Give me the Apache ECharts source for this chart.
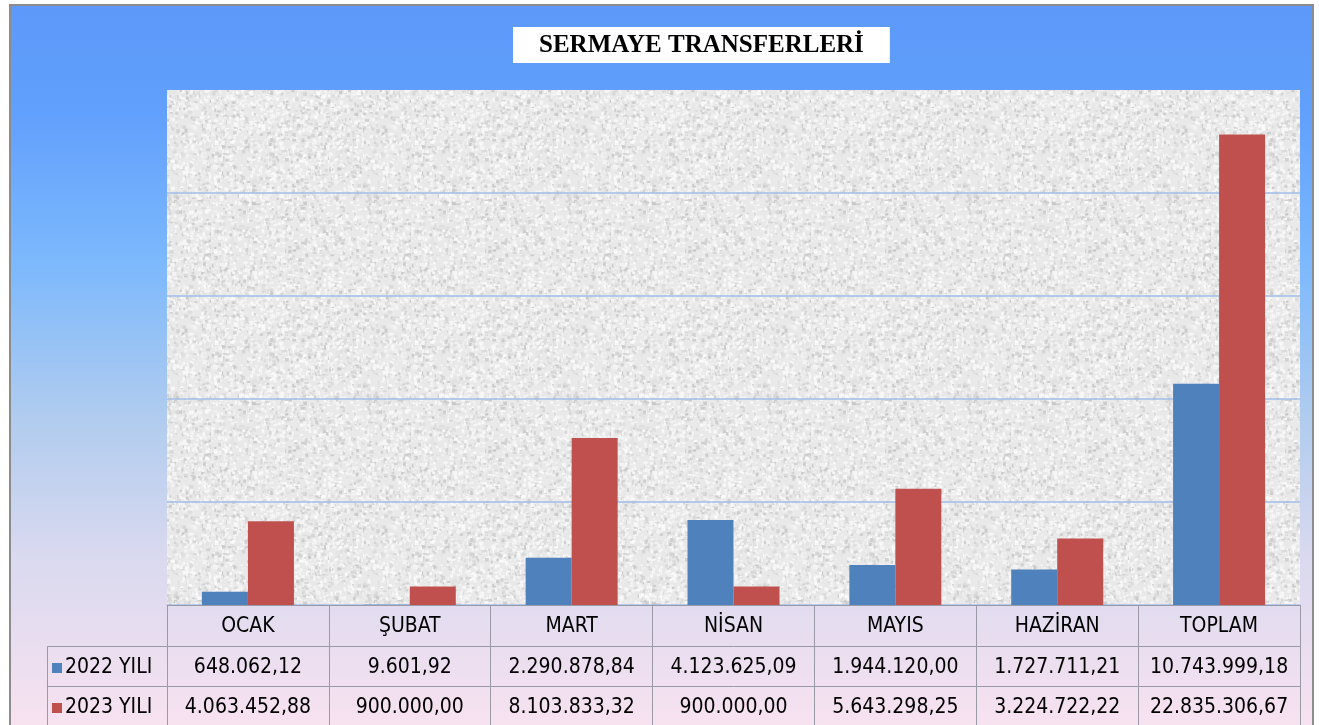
<!DOCTYPE html>
<html>
<head>
<meta charset="utf-8">
<script src="https://cdn.jsdelivr.net/npm/echarts@6/dist/echarts.min.js"></script>
<style>
	body { margin: 0; background: #fff; }
	#myChart {
		position: absolute; left: 9px; top: 4px;
		width: 1301px; height: 723px;
		border: 2px solid #8c8c8c; border-bottom: none;
	}
</style>
</head>
<body>
<div id="myChart"></div>
<script>
var months = ['OCAK', 'ŞUBAT', 'MART', 'NİSAN', 'MAYIS', 'HAZİRAN', 'TOPLAM'];
var seriesNames = ['2022 YILI', '2023 YILI'];
var values2022 = [648062.12, 9601.92, 2290878.84, 4123625.09, 1944120.00, 1727711.21, 10743999.18];
var values2023 = [4063452.88, 900000.00, 8103833.32, 900000.00, 5643298.25, 3224722.22, 22835306.67];

var tableFont = "'Liberation Sans Narrow', 'DejaVu Sans Condensed', 'Arial Narrow', sans-serif";
var borderColor = '#9a9aa6';

// turkish number format 1.234.567,89
function fmtTR(v) {
	var parts = v.toFixed(2).split('.');
	return parts[0].replace(/\B(?=(\d{3})+(?!\d))/g, '.') + ',' + parts[1];
}

// granite like texture for the plot area (seeded, always the same)
function makeTexture() {
	var c = document.createElement('canvas');
	c.width = 200; c.height = 200;
	var ctx = c.getContext('2d');
	ctx.fillStyle = '#e9e9e9';
	ctx.fillRect(0, 0, 200, 200);
	var seed = 12345;
	function rnd() { seed = (seed * 16807) % 2147483647; return seed / 2147483647; }
	for (var i = 0; i < 4200; i++) {
		var g = rnd() < 0.55 ? 244 + Math.floor(rnd() * 10) : 195 + Math.floor(rnd() * 35);
		ctx.fillStyle = 'rgba(' + g + ',' + g + ',' + g + ',0.8)';
		ctx.fillRect(rnd() * 200, rnd() * 200, 1 + rnd() * 3, 1 + rnd() * 3);
	}
	return c;
}

var myChart = echarts.init(document.getElementById('myChart'));

var tableAxis = function (offset, formatter) {
	return {
		type: 'category',
		data: months,
		position: 'bottom',
		offset: offset,
		axisLine: { show: true, lineStyle: { color: borderColor, width: 1 } },
		axisTick: { show: true, interval: 0, length: offset == 0 ? 41 : 40, lineStyle: { color: borderColor } },
		axisLabel: {
			interval: 0,
			margin: 11,
			color: '#000',
			fontFamily: tableFont,
			fontSize: 21,
			formatter: formatter
		},
		splitLine: { show: false }
	};
};

var option = {
	backgroundColor: {
		type: 'linear', x: 0, y: 0, x2: 0, y2: 1,
		colorStops: [
			{ offset: 0, color: '#5c99f8' },
			{ offset: 0.15, color: '#62a0fd' },
			{ offset: 0.36, color: '#7db9fc' },
			{ offset: 0.56, color: '#aecbef' },
			{ offset: 0.76, color: '#d9d9ef' },
			{ offset: 1, color: '#f8e2f0' }
		]
	},
	textStyle: { fontFamily: tableFont },
	title: {
		text: 'SERMAYE TRANSFERLERİ',
		left: 502,
		top: 21,
		backgroundColor: '#fff',
		padding: [6, 26, 5, 26],
		textStyle: {
			fontFamily: "'Liberation Serif', 'DejaVu Serif', serif",
			fontWeight: 'bold',
			fontSize: 25,
			color: '#000'
		}
	},
	legend: {
		data: seriesNames,
		orient: 'vertical',
		left: 41,
		top: 650,
		icon: 'rect',
		itemWidth: 10,
		itemHeight: 10,
		itemGap: 16,
		padding: 0,
		selectedMode: false,
		textStyle: { fontFamily: tableFont, fontSize: 21, lineHeight: 24, color: '#000', padding: [0, 0, 0, -2] }
	},
	grid: {
		left: 156,
		top: 84,
		width: 1133,
		height: 515,
		show: true,
		borderWidth: 0,
		backgroundColor: { image: makeTexture(), repeat: 'repeat' }
	},
	xAxis: [
		tableAxis(0, function (v) { return v; }),
		tableAxis(41, function (v, i) { return fmtTR(values2022[i]); }),
		tableAxis(81, function (v, i) { return fmtTR(values2023[i]); })
	],
	yAxis: {
		type: 'value',
		min: 0,
		max: 25000000,
		interval: 5000000,
		axisLabel: { show: false },
		axisLine: { show: false },
		axisTick: { show: false },
		splitLine: { showMaxLine: false, lineStyle: { color: '#a2bcea', width: 1.5 } }
	},
	series: [
		{
			name: seriesNames[0],
			type: 'bar',
			data: values2022,
			barWidth: 46,
			barGap: '0%',
			itemStyle: { color: '#4f81bd' }
		},
		{
			name: seriesNames[1],
			type: 'bar',
			data: values2023,
			barWidth: 46,
			barGap: '0%',
			itemStyle: { color: '#c0504d' }
		}
	],
	// left column of the data table (row header cells)
	graphic: [
		{ type: 'line', shape: { x1: 36, y1: 640.5, x2: 156, y2: 640.5 }, style: { stroke: borderColor, lineWidth: 1 } },
		{ type: 'line', shape: { x1: 36, y1: 680.5, x2: 156, y2: 680.5 }, style: { stroke: borderColor, lineWidth: 1 } },
		{ type: 'line', shape: { x1: 36.5, y1: 640, x2: 36.5, y2: 730 }, style: { stroke: borderColor, lineWidth: 1 } }
	]
};

myChart.setOption(option);
</script>
</body>
</html>
